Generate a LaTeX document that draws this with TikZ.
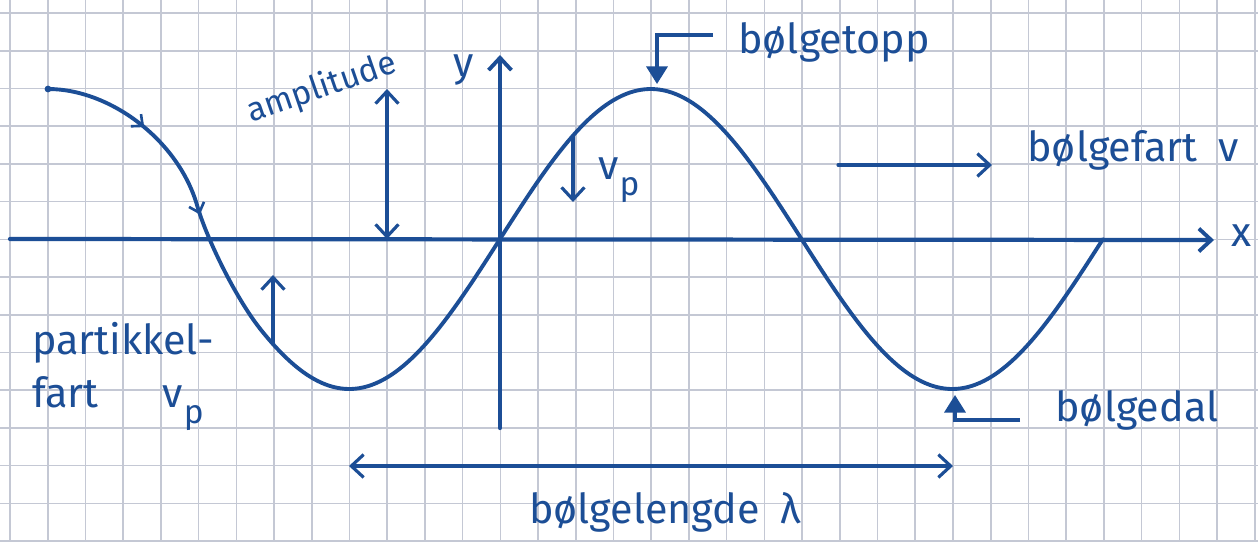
\documentclass[tikz,border=0pt]{standalone}
\usepackage{fontspec}
\setmainfont{Fira Sans}
\usetikzlibrary{arrows.meta,decorations.markings}
\definecolor{ink}{RGB}{28,78,150}
\definecolor{gridc}{RGB}{196,200,212}
\tikzset{
  gridline/.style={gridc, line width=0.9pt},
  axis/.style={ink, line width=2.4pt, line cap=round},
  wave/.style={ink, line width=2.2pt, line cap=round},
  pointer/.style={ink, line width=1.8pt, line cap=round, -{Straight Barb[length=7pt,width=13pt,line width=1.8pt]}},
  twoway/.style={ink, line width=1.8pt, line cap=round, {Straight Barb[length=7pt,width=13pt,line width=1.8pt]}-{Straight Barb[length=7pt,width=13pt,line width=1.8pt]}},
  marker/.style={ink, line width=1.8pt, -{Triangle[length=10pt,width=12pt]}},
  lbl/.style={ink, font=\fontsize{23.5}{26}\selectfont, inner sep=0pt},
  small/.style={ink, font=\fontsize{19}{22}\selectfont, inner sep=0pt},
  dirmarks/.style={postaction={decorate}, decoration={markings,
     mark=at position 0.31 with {\arrow{Straight Barb[length=5pt,width=9pt,line width=1.5pt]}},
     mark=at position 0.62 with {\arrow{Straight Barb[length=5pt,width=9pt,line width=1.5pt]}}}},
}
\newcommand{\vp}{v\kern0.5pt\raisebox{-0.75ex}{\fontsize{19}{22}\selectfont p}}
\begin{document}
\begin{tikzpicture}[x=0.02cm,y=-0.02cm]
\useasboundingbox (0,0) rectangle (1258,542);
\fill[white] (0,0) rectangle (1258,542);
% grid paper
\foreach \i in {0,...,33} \draw[gridline] ({10+37.72*\i},0) -- ({10+37.72*\i},542);
\foreach \j in {0,...,14} \draw[gridline] (0,{13+37.72*\j}) -- (1258,{13+37.72*\j});
% axes
\coordinate (xS) at (10,239);
\coordinate (xE) at (1214,240);
\coordinate (yS) at (500,428);
\coordinate (yE) at (500,55);
\draw[axis, -{Straight Barb[length=7pt,width=13pt,line width=2.2pt]}] (xS) -- (xE);
\draw[axis, -{Straight Barb[length=7pt,width=13pt,line width=2.2pt]}] (yS) -- (yE);
\node[lbl] (xl) at (1241,236) {x};
\node[lbl] (yl) at (464,70) {y};
% wave: hand-drawn left part, then sine
\coordinate (w0) at (48,89);
\coordinate (w1) at (197,205);
\coordinate (w2) at (260,328.6);
\draw[wave, dirmarks] (w0) .. controls (110,89) and (178,140) .. (w1)
   .. controls (206,237) and (235,297) .. (w2);
\draw[wave] plot[domain=260:1103, samples=220, smooth] (\x, {239-150*sin(0.59701*(\x-500))});
\fill[ink] (w0) circle (3.4);
% amplitude
\coordinate (ampB) at (387,239);
\coordinate (ampT) at (387,89);
\draw[twoway] (ampB) -- (ampT);
\node[small, rotate=19] (amp) at (322,88) {amplitude};
% particle velocity arrows
\coordinate (vpA) at (573,136);
\coordinate (vpB) at (573,202);
\draw[pointer] (vpA) -- (vpB);
\node[lbl, anchor=west] (vpl) at (598,180) {\vp};
\coordinate (upA) at (273,344);
\coordinate (upB) at (273,275);
\draw[pointer] (upA) -- (upB);
\node[lbl, align=left, anchor=north west] (part) at (32,322) {partikkel-\\[4pt]fart\hspace{1.55em}\vp};
% crest
\node[lbl, anchor=west] (topp) at (738,42) {bølgetopp};
\coordinate (toppS) at (713,35);
\coordinate (peak) at (657,84);
\draw[marker] (toppS) -| (peak);
% wave speed
\coordinate (vS) at (838,165);
\coordinate (vE) at (992,165);
\draw[pointer] (vS) -- (vE);
\node[lbl, anchor=west] (fart) at (1027,150) {bølgefart\enspace v};
% trough
\node[lbl, anchor=west] (dal) at (1055,410) {bølgedal};
\coordinate (dalS) at (1020,420);
\coordinate (trough) at (955,395);
\draw[marker] (dalS) -| (trough);
% wavelength
\coordinate (lamL) at (349,466);
\coordinate (lamR) at (953,466);
\draw[twoway] (lamL) -- (lamR);
\node[lbl] (lam) at (665,512) {bølgelengde\enspace λ};
\end{tikzpicture}
\end{document}
